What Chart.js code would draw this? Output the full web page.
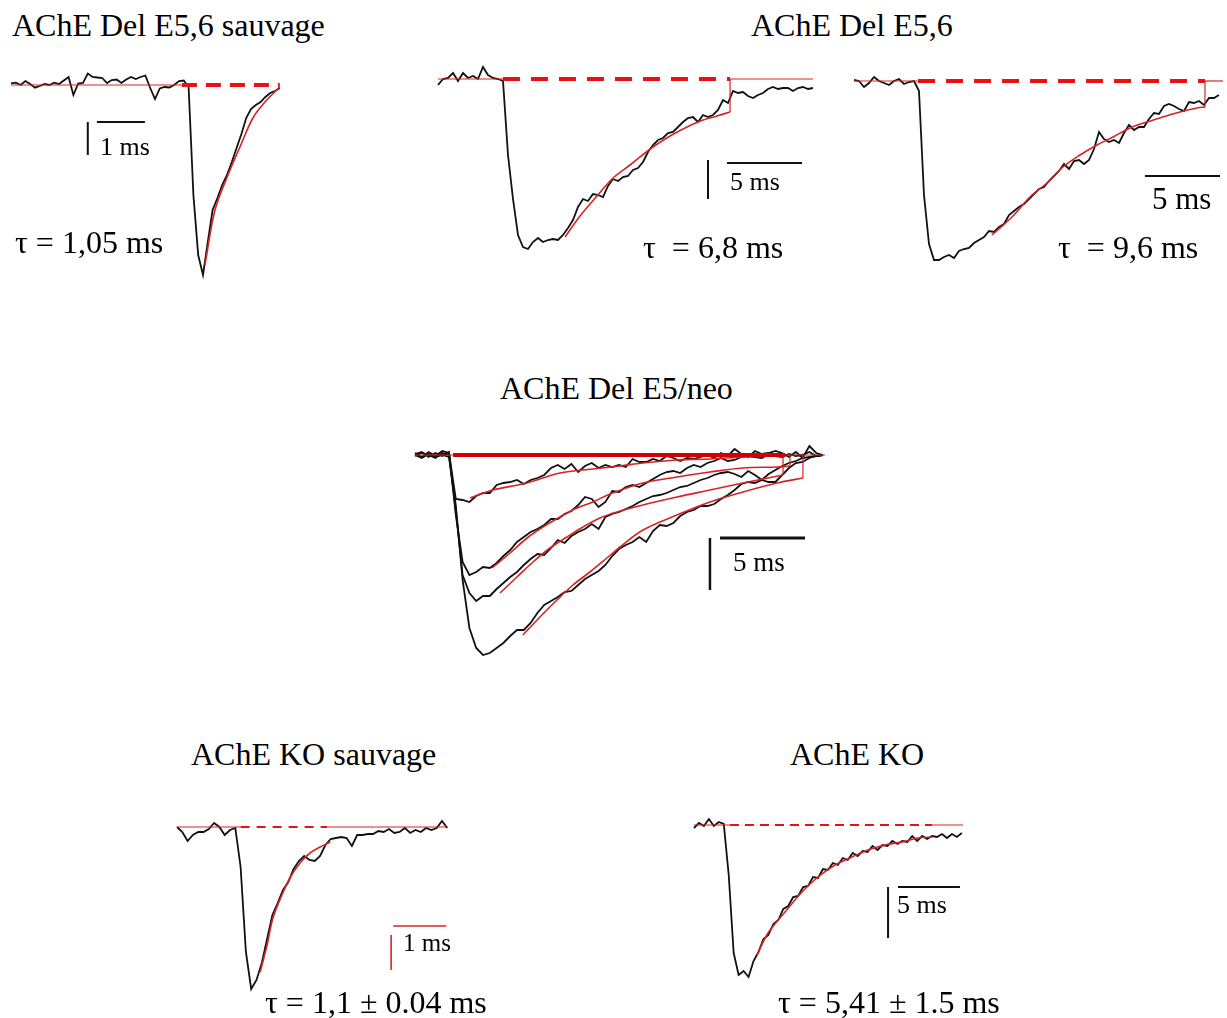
<!DOCTYPE html>
<html>
<head>
<meta charset="utf-8">
<script src="https://cdn.jsdelivr.net/npm/chart.js@4.4.1/dist/chart.umd.min.js"></script>
<style>
  body { margin: 0; background: #fff; }
  #page { position: relative; width: 1227px; height: 1018px; overflow: hidden; background: #fff; }
  #page canvas { position: absolute; }
  .lbl { position: absolute; font-family: 'Liberation Serif', 'Times New Roman', serif; line-height: 1; white-space: pre; color: #000; z-index: 5; }
</style>
</head>
<body>
<div id="page">
  <div class="lbl" style="left:12px;top:9px;font-size:32px">AChE Del E5,6 sauvage</div>
  <div class="lbl" style="left:751px;top:9px;font-size:32px">AChE Del E5,6</div>
  <div class="lbl" style="left:500px;top:372px;font-size:32px">AChE Del E5/neo</div>
  <div class="lbl" style="left:191px;top:738px;font-size:32px">AChE KO sauvage</div>
  <div class="lbl" style="left:790px;top:738px;font-size:32px">AChE KO</div>

  <div class="lbl" style="left:15px;top:226px;font-size:32px">τ = 1,05 ms</div>
  <div class="lbl" style="left:643px;top:231px;font-size:32px">τ  = 6,8 ms</div>
  <div class="lbl" style="left:1058px;top:231px;font-size:32px">τ  = 9,6 ms</div>
  <div class="lbl" style="left:265px;top:986px;font-size:32px">τ = 1,1 ± 0.04 ms</div>
  <div class="lbl" style="left:778px;top:986px;font-size:32px">τ = 5,41 ± 1.5 ms</div>

  <div class="lbl" style="left:100px;top:134px;font-size:26px">1 ms</div>
  <div class="lbl" style="left:730px;top:169px;font-size:26px">5 ms</div>
  <div class="lbl" style="left:1152px;top:183px;font-size:31px">5 ms</div>
  <div class="lbl" style="left:733px;top:549px;font-size:27px">5 ms</div>
  <div class="lbl" style="left:403px;top:930px;font-size:25px">1 ms</div>
  <div class="lbl" style="left:897px;top:892px;font-size:26px">5 ms</div>
</div>
<script>
// ---- data: time in ms, amplitude in arbitrary units (negative = inward current)

// AChE Del E5,6 sauvage
const P1_DT = 0.1;
const p1Trace = [1.7, 2.3, 0, 4, 1, -2.7, -1, 1, 0, 2.3, 1, 4.5, 8, -10, 1.5, 2, 11.5, 8, 7.5, 7,
  2, 5, 5.5, 2, 5.5, 8, 6, 8, 9.5, -3, -14, -3.5, -2, -2.5, 0, 4, 4.5, -2, -110, -170,
  -190, -157, -125, -113, -100, -90, -77, -63, -49, -33, -24, -20, -17, -12, -8, -6, -3];
const p1FitT = [4.04, 4.25, 4.52, 4.77, 5.04, 5.31, 5.6];
const p1FitV = [-180, -125, -90, -62, -33, -16, -2];
const p1BaseSolid = [0, 3.56];
const p1BaseDash = [3.56, 5.6];
const p1BarH = [1.79, 2.79, -37];
const p1BarV = [1.6, -37, -70];

// AChE Del E5,6 (cell 1)
const P2_DT = 1 / 3;
const p2Trace = [-6, 0, 1, 6, -2, 6, 1, 3, 0, 12, 4, 1, 0, -2, -76, -120, -156, -168, -170, -163,
  -159, -163, -161, -160, -161, -156, -149, -141, -128, -120, -122, -115, -116, -118, -107, -100, -102, -98, -97, -91,
  -89, -83, -73, -66, -61, -59, -54, -53, -48, -43, -39, -38, -43, -36, -38, -36, -31, -21, -24, -12,
  -14, -13, -17, -19, -16, -14, -10, -8, -10, -9, -9, -12, -9, -8, -10, -9];
const p2FitT = [8.47, 9.47, 10.6, 11.67, 12.8, 14.33, 15.47, 16.6, 17.67, 18.6, 19.47];
const p2FitV = [-158, -137, -117, -99, -86, -68, -57, -48, -41, -37, -33];
const p2BaseSolid = [0, 4.33];
const p2BaseDash = [4.33, 19.47];
const p2BaseTail = [19.47, 25];
const p2BarH = [19.27, 24.27, -84];
const p2BarV = [18, -81, -120];

// AChE Del E5,6 (cell 2)
const P3_DT = 1 / 3;
const p3Trace = [1, 0, -6, -2, 4, 0, -2, -4, 0, 2, -3, -1, 0, -10, -114, -163, -179, -179, -176, -174,
  -177, -170, -168, -167, -162, -159, -156, -150, -151, -146, -143, -134, -130, -126, -123, -118, -113, -108, -106, -100,
  -95, -90, -83, -88, -80, -79, -83, -79, -68, -51, -58, -61, -59, -62, -52, -44, -49, -46, -46, -38,
  -32, -33, -25, -23, -25, -28, -30, -21, -22, -20, -24, -17, -17, -14];
const p3FitT = [9.2, 10.53, 11.73, 12.87, 13.93, 15.07, 16.2, 17.27, 18.4, 19.53, 20.6, 21.73, 22.87, 23.4];
const p3FitV = [-154, -136, -116, -102, -86, -74, -64, -56, -47, -41, -36, -31, -27, -26];
const p3BaseSolid = [0, 4.27];
const p3BaseDash = [4.27, 23.4];
const p3BaseTail = [23.4, 24.6];
const p3BarH = [19.4, 24.4, -95];

// AChE Del E5/neo, four cells superimposed
const P4_DT = 0.4;
const p4TraceA = [2, -2, 3, -1, 4, 2, -44, -45, -47, -41, -38, -38, -30, -28, -27, -25, -29, -25, -23, -20,
  -13, -10, -14, -9, -17, -11, -8, -13, -10, -12, -10, -12, -4, -7, -7, -4, -6, -1, -3, -6,
  -3, -4, -2, 0, -3, 2, -1, 6, 1, -2, 4, 1, 2, 4, 2, -2, 3, -3, 9, 2, 0];
const p4TraceB = [1, 3, -2, 2, -1, 3, -60, -107, -120, -117, -112, -113, -108, -101, -95, -87, -82, -77, -74, -70,
  -64, -64, -59, -56, -50, -42, -44, -52, -47, -36, -37, -32, -30, -32, -28, -24, -20, -17, -16, -18,
  -13, -10, -12, -8, -6, -3, -6, -5, -2, -1, -2, -3, 1, -1, -2, 1, -1, 0, 3, -1, 0];
const p4TraceC = [-1, 2, 0, -3, 2, 0, -55, -120, -138, -146, -141, -141, -134, -128, -122, -117, -110, -104, -99, -100,
  -93, -85, -88, -81, -77, -74, -69, -74, -62, -59, -57, -54, -51, -47, -44, -41, -40, -38, -35, -32,
  -31, -28, -25, -23, -20, -18, -17, -19, -22, -16, -20, -25, -19, -15, -11, -8, -6, -3, -2, -1, 0];
const p4TraceD = [0, -3, 1, -2, 0, -2, -50, -125, -173, -193, -200, -198, -193, -188, -181, -175, -175, -168, -158, -150,
  -146, -142, -137, -136, -130, -124, -120, -116, -110, -101, -94, -90, -87, -82, -87, -76, -70, -71, -68, -61,
  -57, -55, -51, -51, -49, -44, -40, -35, -29, -27, -28, -25, -27, -27, -20, -13, -8, -7, -3, -1, 0];
const p4FitAT = [3.24, 4.59, 6.59, 8.53, 10.47, 12.06, 13.41, 15.41, 17.35, 19.29, 21.65];
const p4FitAV = [-43, -35, -28, -18, -14, -11, -8, -5, -4, -2, -1];
const p4FitBT = [4.53, 5.59, 6.59, 7.53, 8.53, 9.53, 10.47, 11.47, 13.41, 15.41, 17.35, 19.29, 21.29, 22.06];
const p4FitBV = [-113, -98, -83, -72, -62, -53, -47, -39, -28, -22, -17, -13, -12, -11];
const p4FitCT = [5, 6, 6.94, 7.94, 8.94, 9.88, 10.88, 11.88, 13.41, 15.41, 17.35, 19.29, 21.65];
const p4FitCV = [-138, -122, -107, -93, -82, -72, -63, -57, -50, -42, -35, -28, -20];
const p4FitDT = [6.35, 7.35, 8.35, 9.29, 10.29, 11.29, 12.06, 13.41, 15.41, 17.35, 19.29, 21.29, 22.82];
const p4FitDV = [-180, -162, -145, -130, -117, -103, -92, -75, -60, -47, -37, -28, -23];
const p4BaseSolid = [0, 2.24];
const p4BaseThick = [2.24, 21.76];
const p4BaseTail = [21.76, 24.12];
const p4BarH = [17.94, 22.94, -83];
const p4BarV = [17.35, -83, -135];

// AChE KO sauvage
const P5_DT = 0.1;
const p5Trace = [0, -5, -14, -8, -5, -5, -2, 4, 0, -8, -3, -1, -40, -125, -162, -153, -136, -112, -88, -76,
  -63, -55, -42, -34, -29, -33, -34, -29, -18, -12, -11, -10, -11, -19, -8, -8, -7, -7, -4, -5,
  -2, -6, -5, -1, -6, -3, -5, -1, -3, -1, 6, -1];
const p5FitT = [1.57, 1.70, 1.81, 1.98, 2.13, 2.32, 2.51, 2.70, 2.89];
const p5FitV = [-145, -118, -91, -68, -51, -36, -26, -20, -15];
const p5BaseSolid = [0, 1.2];
const p5BaseDash = [1.2, 2.83];
const p5BaseTail = [2.83, 5.1];
const p5BarH = [4.08, 5.08, -99];
const p5BarV = [4.04, -108, -143];

// AChE KO
const P6_DT = 0.4;
const p6Trace = [-3, 2, -1, 6, -1, 3, 1, -50, -128, -150, -146, -152, -136, -127, -114, -110, -99, -95, -84, -81,
  -72, -71, -62, -61, -52, -53, -44, -45, -38, -40, -33, -35, -28, -31, -26, -27, -21, -25, -20, -21,
  -16, -19, -16, -17, -11, -16, -11, -14, -11, -12, -9, -13, -9, -12, -8];
const p6FitT = [5.08, 5.97, 7.34, 8.71, 10, 11.37, 12.74, 14.03, 15.4, 16.77, 18.06, 19.19];
const p6FitV = [-130, -108, -87, -67, -52, -40, -32, -25, -20, -17, -13, -12];
const p6BaseSolid = [0, 2.9];
const p6BaseDash = [2.9, 19.19];
const p6BaseTail = [19.19, 21.7];
const p6BarH = [16.45, 21.45, -62];
const p6BarV = [15.65, -62, -113];

// ---- helpers
const sampled = (vals, dt) => vals.map((v, i) => ({ x: i * dt, y: v }));
const paired = (ts, vs) => ts.map((t, i) => ({ x: t, y: vs[i] }));
const hline = (r, v) => [{ x: r[0], y: v }, { x: r[1], y: v }];
const hbar = (b) => [{ x: b[0], y: b[2] }, { x: b[1], y: b[2] }];
const vbar = (b) => [{ x: b[0], y: b[1] }, { x: b[0], y: b[2] }];
// vertical return of a fit to the baseline, at the fit's last point
const stepUp = (ts, vs) => [{ x: ts[ts.length - 1], y: vs[vs.length - 1] }, { x: ts[ts.length - 1], y: 0 }];

const RED = 'rgb(214,36,36)';
const DASHRED = 'rgb(236,16,16)';
const BLACK = '#111';

const trace = (data) => ({ data, borderColor: BLACK, borderWidth: 1.8 });
const fit = (data) => ({ data, borderColor: RED, borderWidth: 1.6, tension: 0.35 });
const thin = (data) => ({ data, borderColor: RED, borderWidth: 1.2 });
const dash = (data, w, pattern) => ({ data, borderColor: DASHRED, borderWidth: w, borderDash: pattern });
const bar = (data, color, w) => ({ data, borderColor: color || BLACK, borderWidth: w || 2 });

// panel boxes on the page: canvas rect, pixel of t=0, px per ms, pixel of baseline
function panel(box, datasets) {
  const cv = document.createElement('canvas');
  cv.width = box.w; cv.height = box.h;
  cv.style.left = box.left + 'px'; cv.style.top = box.top + 'px';
  document.getElementById('page').appendChild(cv);
  new Chart(cv.getContext('2d'), {
    type: 'line',
    data: { datasets },
    options: {
      responsive: false,
      animation: false,
      layout: { padding: 0 },
      plugins: { legend: { display: false }, tooltip: { enabled: false } },
      elements: { point: { radius: 0, hoverRadius: 0 }, line: { tension: 0, fill: false } },
      events: [],
      scales: {
        x: { type: 'linear', display: false,
             min: (box.left - box.x0) / box.pxMs, max: (box.left + box.w - box.x0) / box.pxMs },
        y: { type: 'linear', display: false,
             min: box.base - (box.top + box.h), max: box.base - box.top }
      }
    }
  });
}

panel({ left: 0, top: 50, w: 300, h: 240, x0: 11, pxMs: 48, base: 85 }, [
  fit(paired(p1FitT, p1FitV)),
  dash(hline(p1BaseDash, 0), 4, [15, 9]),
  thin(hline(p1BaseSolid, 0)),
  trace(sampled(p1Trace, P1_DT)),
  bar(hbar(p1BarH)), bar(vbar(p1BarV))
]);

panel({ left: 425, top: 50, w: 400, h: 210, x0: 438, pxMs: 15, base: 79 }, [
  fit(paired(p2FitT, p2FitV)), thin(stepUp(p2FitT, p2FitV)),
  dash(hline(p2BaseDash, 0), 4, [17, 11]),
  thin(hline(p2BaseSolid, 0)), thin(hline(p2BaseTail, 0)),
  trace(sampled(p2Trace, P2_DT)),
  bar(hbar(p2BarH)), bar(vbar(p2BarV))
]);

panel({ left: 840, top: 50, w: 387, h: 230, x0: 854, pxMs: 15, base: 81 }, [
  fit(paired(p3FitT, p3FitV)), thin(stepUp(p3FitT, p3FitV)),
  dash(hline(p3BaseDash, 0), 4, [17, 11]),
  thin(hline(p3BaseSolid, 0)), thin(hline(p3BaseTail, 0)),
  trace(sampled(p3Trace, P3_DT)),
  bar(hbar(p3BarH))
]);

panel({ left: 405, top: 430, w: 425, h: 240, x0: 415, pxMs: 17, base: 455 }, [
  { data: hline(p4BaseThick, 0), borderColor: 'rgb(210,0,0)', borderWidth: 4 },
  fit(paired(p4FitAT, p4FitAV)),
  fit(paired(p4FitBT, p4FitBV)), thin(stepUp(p4FitBT, p4FitBV)),
  fit(paired(p4FitCT, p4FitCV)), thin(stepUp(p4FitCT, p4FitCV)),
  fit(paired(p4FitDT, p4FitDV)), thin(stepUp(p4FitDT, p4FitDV)),
  thin(hline(p4BaseSolid, 0)), thin(hline(p4BaseTail, 0)),
  trace(sampled(p4TraceA, P4_DT)), trace(sampled(p4TraceB, P4_DT)),
  trace(sampled(p4TraceC, P4_DT)), trace(sampled(p4TraceD, P4_DT)),
  bar(hbar(p4BarH), BLACK, 3), bar(vbar(p4BarV), BLACK, 2.5)
]);

panel({ left: 165, top: 805, w: 295, h: 190, x0: 177, pxMs: 53, base: 827 }, [
  fit(paired(p5FitT, p5FitV)),
  dash(hline(p5BaseDash, 0), 2, [9, 7]),
  thin(hline(p5BaseSolid, 0)), thin(hline(p5BaseTail, 0)),
  trace(sampled(p5Trace, P5_DT)),
  bar(hbar(p5BarH), RED, 1.6), bar(vbar(p5BarV), RED, 1.6)
]);

panel({ left: 680, top: 805, w: 290, h: 180, x0: 694, pxMs: 12.4, base: 825 }, [
  fit(paired(p6FitT, p6FitV)),
  dash(hline(p6BaseDash, 0), 2, [9, 6]),
  thin(hline(p6BaseSolid, 0)), thin(hline(p6BaseTail, 0)),
  trace(sampled(p6Trace, P6_DT)),
  bar(hbar(p6BarH)), bar(vbar(p6BarV))
]);
</script>
</body>
</html>
